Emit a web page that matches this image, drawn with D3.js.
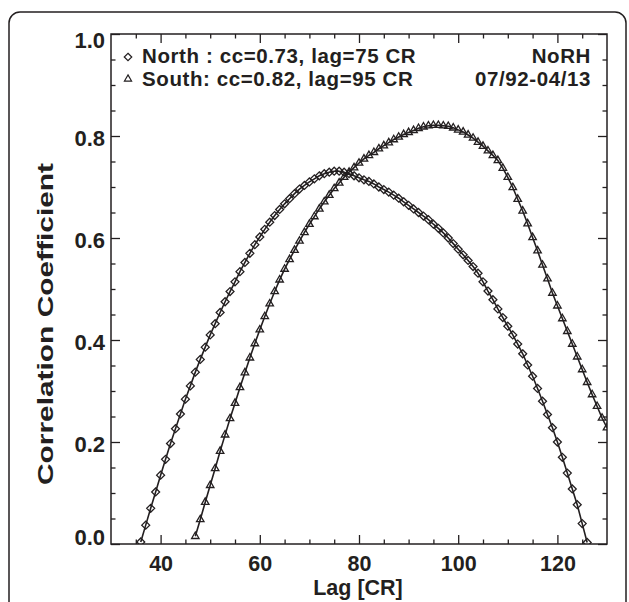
<!DOCTYPE html>
<html>
<head>
<meta charset="utf-8">
<script src="https://cdn.jsdelivr.net/npm/d3@7"></script>
<style>
  body { margin: 0; background: #fff; }
  text { font-family: "Liberation Sans", Arial, Helvetica, sans-serif; font-weight: bold; fill: #231f20; }
</style>
</head>
<body>
<div id="chart"></div>
<script>
// lags (Carrington rotations) and correlation coefficients
const northLags = d3.range(36, 127);
const northCC = [
  0.004, 0.037, 0.070, 0.102, 0.135, 0.166, 0.197, 0.226, 0.255, 0.284,
  0.310, 0.337, 0.362, 0.386, 0.410, 0.432, 0.454, 0.475, 0.495, 0.514,
  0.534, 0.552, 0.570, 0.587, 0.602, 0.617, 0.631, 0.644, 0.656, 0.667,
  0.677, 0.687, 0.696, 0.703, 0.710, 0.716, 0.722, 0.726, 0.729, 0.731,
  0.731, 0.729, 0.726, 0.722, 0.718, 0.714, 0.711, 0.706, 0.700, 0.695,
  0.690, 0.684, 0.678, 0.671, 0.664, 0.657, 0.650, 0.643, 0.636, 0.627,
  0.619, 0.610, 0.600, 0.589, 0.578, 0.567, 0.556, 0.544, 0.531, 0.514,
  0.496, 0.479, 0.461, 0.444, 0.427, 0.410, 0.392, 0.373, 0.351, 0.329,
  0.305, 0.280, 0.254, 0.228, 0.200, 0.170, 0.139, 0.108, 0.077, 0.040,
  0.003
];
const southLags = d3.range(47, 131);
const southCC = [
  0.015, 0.048, 0.082, 0.115, 0.148, 0.182, 0.214, 0.246, 0.276, 0.307,
  0.336, 0.365, 0.393, 0.420, 0.446, 0.471, 0.495, 0.518, 0.539, 0.558,
  0.576, 0.594, 0.611, 0.627, 0.642, 0.657, 0.671, 0.684, 0.697, 0.708,
  0.719, 0.729, 0.738, 0.747, 0.755, 0.762, 0.768, 0.775, 0.781, 0.787,
  0.793, 0.798, 0.803, 0.807, 0.811, 0.815, 0.818, 0.820, 0.821, 0.821,
  0.820, 0.819, 0.816, 0.812, 0.808, 0.802, 0.796, 0.788, 0.780, 0.771,
  0.762, 0.752, 0.737, 0.719, 0.699, 0.676, 0.653, 0.628, 0.601, 0.575,
  0.547, 0.520, 0.492, 0.467, 0.442, 0.417, 0.392, 0.367, 0.342, 0.317,
  0.293, 0.270, 0.247, 0.228
];

const xMajor = [40, 60, 80, 100, 120];
const xMinor = [35, 45, 50, 55, 65, 70, 75, 85, 90, 95, 105, 110, 115, 125];
const yMajor = [0.0, 0.2, 0.4, 0.6, 0.8, 1.0];
const yMinor = [0.05, 0.1, 0.15, 0.25, 0.3, 0.35, 0.45, 0.5, 0.55, 0.65, 0.7, 0.75, 0.85, 0.9, 0.95];

const legendLeft = ["North : cc=0.73, lag=75 CR", "South: cc=0.82, lag=95 CR"];
const legendRight = ["NoRH", "07/92-04/13"];

const W = 629, H = 602;
const mleft = 111, mtop = 34, pright = 607, pbottom = 544;
const ink = "#231f20";

let svg = d3.select("#chart").append("svg")
  .attr("width", W)
  .attr("height", H);

// outer rounded frame (runs off the bottom of the picture)
svg.append("rect")
  .attr("x", 9).attr("y", 12)
  .attr("width", 617).attr("height", 640)
  .attr("rx", 11)
  .attr("fill", "none")
  .attr("stroke", ink)
  .attr("stroke-width", 1.5);

let x = d3.scaleLinear().domain([30, 130]).range([mleft, pright]);
let y = d3.scaleLinear().domain([0, 1]).range([pbottom, mtop]);

svg.append("clipPath").attr("id", "plotclip")
  .append("rect")
  .attr("x", mleft).attr("y", mtop - 5)
  .attr("width", pright - mleft).attr("height", pbottom - mtop + 5);

// axes, ticks pointing inward
function addAxis(axis, tr, vals, size, fmt) {
  let g = svg.append("g")
    .attr("transform", tr)
    .call(axis.tickValues(vals).tickSizeInner(-size).tickSizeOuter(0).tickFormat(fmt));
  g.select(".domain").remove();
  g.selectAll(".tick line").attr("stroke", ink).attr("stroke-width", 1.3);
  return g;
}

let bottomAxis = addAxis(d3.axisBottom(x).tickPadding(12), `translate(0,${pbottom})`, xMajor, 9, d3.format("d"));
addAxis(d3.axisBottom(x), `translate(0,${pbottom})`, xMinor, 4.5, () => "");
addAxis(d3.axisTop(x), `translate(0,${mtop})`, xMajor, 9, () => "");
addAxis(d3.axisTop(x), `translate(0,${mtop})`, xMinor, 4.5, () => "");
let leftAxis = addAxis(d3.axisLeft(y).tickPadding(6), `translate(${mleft},0)`, yMajor, 9, d3.format(".1f"));
addAxis(d3.axisLeft(y), `translate(${mleft},0)`, yMinor, 4.5, () => "");
addAxis(d3.axisRight(y), `translate(${pright},0)`, yMajor, 9, () => "");
addAxis(d3.axisRight(y), `translate(${pright},0)`, yMinor, 4.5, () => "");

bottomAxis.selectAll("text")
  .attr("font-size", 21.5).attr("fill", ink);
leftAxis.selectAll("text")
  .attr("font-size", 22).attr("fill", ink)
  .attr("dy", d => d == 1 ? "0.6em" : (d == 0 ? "0.0em" : "0.42em"));

// plot box
svg.append("rect")
  .attr("x", mleft).attr("y", mtop)
  .attr("width", pright - mleft).attr("height", pbottom - mtop)
  .attr("fill", "none")
  .attr("stroke", ink)
  .attr("stroke-width", 1.5);

// axis titles
svg.append("text")
  .attr("x", (mleft + pright) / 2 - 1)
  .attr("y", 595)
  .attr("text-anchor", "middle")
  .attr("font-size", 21.5)
  .text("Lag [CR]");

svg.append("text")
  .attr("transform", "translate(53,324) rotate(-90)")
  .attr("text-anchor", "middle")
  .attr("font-size", 22)
  .attr("textLength", 322)
  .attr("lengthAdjust", "spacingAndGlyphs")
  .text("Correlation Coefficient");

// curves
let plot = svg.append("g").attr("clip-path", "url(#plotclip)");
let line = d3.line().x(d => x(d[0])).y(d => y(d[1]));

let series = [
  { lags: northLags, cc: northCC, sym: d3.symbolDiamond2, size: 40 },
  { lags: southLags, cc: southCC, sym: d3.symbolTriangle2, size: 40 }
];

for (let s of series) {
  let pts = s.lags.map((l, i) => [l, s.cc[i]]);
  plot.append("path")
    .datum(pts)
    .attr("d", line)
    .attr("fill", "none")
    .attr("stroke", ink)
    .attr("stroke-width", 1.6);
  plot.append("g")
    .selectAll("path")
    .data(pts)
    .join("path")
      .attr("transform", d => `translate(${x(d[0])},${y(d[1])})`)
      .attr("d", d3.symbol(s.sym, s.size))
      .attr("fill", "none")
      .attr("stroke", ink)
      .attr("stroke-width", 1.3);
}

// legend
let syms = [d3.symbolDiamond2, d3.symbolTriangle2];
legendLeft.forEach((t, i) => {
  svg.append("path")
    .attr("transform", `translate(128,${57 + i * 22})`)
    .attr("d", d3.symbol(syms[i], 36))
    .attr("fill", "none")
    .attr("stroke", ink)
    .attr("stroke-width", 1.2);
  svg.append("text")
    .attr("x", 142)
    .attr("y", 63 + i * 23)
    .attr("font-size", 20.5)
    .attr("letter-spacing", 0.6)
    .text(t);
});
legendRight.forEach((t, i) => {
  svg.append("text")
    .attr("x", 591)
    .attr("y", 63 + i * 23)
    .attr("text-anchor", "end")
    .attr("font-size", 20.5)
    .attr("letter-spacing", 0.6)
    .text(t);
});
</script>
</body>
</html>
